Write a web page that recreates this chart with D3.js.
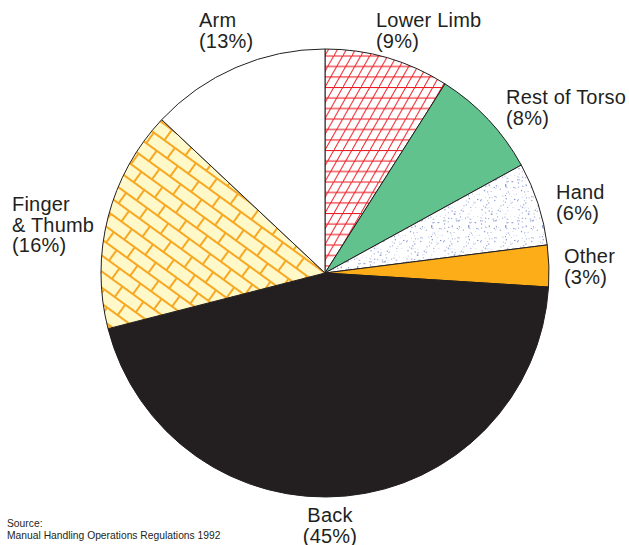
<!DOCTYPE html>
<html>
<head>
<meta charset="utf-8">
<script src="https://cdn.jsdelivr.net/npm/d3@7"></script>
<style>
  html, body { margin: 0; padding: 0; background: #fff; }
  svg { display: block; }
  text { font-family: "Liberation Sans", Arial, Helvetica, sans-serif; fill: #231f20; }
</style>
</head>
<body>
<svg id="chart" width="629" height="545"></svg>
<script>
// ---- data ----
const categories = ["Lower Limb", "Rest of Torso", "Hand", "Other", "Back", "Finger & Thumb", "Arm"];
const values = [9, 8, 6, 3, 45, 16, 13];
const labelLines = [
  ["Lower Limb", "(9%)"],
  ["Rest of Torso", "(8%)"],
  ["Hand", "(6%)"],
  ["Other", "(3%)"],
  ["Back", "(45%)"],
  ["Finger", "& Thumb", "(16%)"],
  ["Arm", "(13%)"]
];
const sourceLines = ["Source:", "Manual Handling Operations Regulations 1992"];

// ---- layout / style ----
const W = 629, H = 545;
const cx = 325, cy = 273, R = 224;
const fills = ["url(#hatch)", "#62c28e", "url(#stipple)", "#fcad17", "#231f20", "url(#brick)", "#ffffff"];
// label anchor positions (x, first baseline, anchor)
const labelPos = [
  [376, 27, "start"],
  [506, 104, "start"],
  [556, 199, "start"],
  [564, 263, "start"],
  [330, 522, "middle"],
  [12, 211, "start"],
  [199, 27, "start"]
];
const lineH = 20.5;

const svg = d3.select("#chart");
const defs = svg.append("defs");

// crosshatch (Lower Limb): horizontals every 10.5px, steep diagonals every 9px
const hw = 9, hh = 31.5;
const hatch = defs.append("pattern").attr("id", "hatch")
  .attr("patternUnits", "userSpaceOnUse").attr("width", hw).attr("height", hh)
  .attr("x", 0).attr("y", 3);
hatch.append("rect").attr("width", hw).attr("height", hh).attr("fill", "#fff");
[0, 10.5, 21].forEach(y => hatch.append("line")
  .attr("x1", 0).attr("y1", y + 0.5).attr("x2", hw).attr("y2", y + 0.5)
  .attr("stroke", "#ed1c24").attr("stroke-width", 1.1));
[-18, -9, 0].forEach(x0 => hatch.append("line")
  .attr("x1", x0).attr("y1", hh).attr("x2", x0 + 18).attr("y2", 0)
  .attr("stroke", "#ed1c24").attr("stroke-width", 1));

// stipple (Hand) - deterministic dot tile
const stip = defs.append("pattern").attr("id", "stipple")
  .attr("patternUnits", "userSpaceOnUse").attr("width", 37).attr("height", 41);
stip.append("rect").attr("width", 37).attr("height", 41).attr("fill", "#fff");
let seed = 7;
function nextR() { seed = (seed * 16807) % 2147483647; return (seed - 1) / 2147483646; }
const dots = d3.range(110).map(() => [nextR() * 37, nextR() * 41, 0.35 + nextR() * 0.4]);
stip.selectAll("circle").data(dots).join("circle")
  .attr("cx", d => d[0]).attr("cy", d => d[1]).attr("r", d => d[2])
  .attr("fill", "#4a64b8").attr("opacity", 0.6);

// brick (Finger & Thumb)
const bw = 26, bh = 13;
const brick = defs.append("pattern").attr("id", "brick")
  .attr("patternUnits", "userSpaceOnUse").attr("width", bw).attr("height", bh * 2)
  .attr("patternTransform", "rotate(36)");
brick.append("rect").attr("width", bw).attr("height", bh * 2).attr("fill", "#fff8c8");
function bl(x1, y1, x2, y2) {
  brick.append("line").attr("x1", x1).attr("y1", y1).attr("x2", x2).attr("y2", y2)
    .attr("stroke", "#f7a823").attr("stroke-width", 2);
}
bl(0, 0, bw, 0); bl(0, bh, bw, bh); bl(0, bh * 2, bw, bh * 2);
bl(0, 0, 0, bh); bl(bw, 0, bw, bh);
bl(bw / 2, bh, bw / 2, bh * 2);

// ---- pie ----
const pie = d3.pie().sort(null).value(d => d)(values);
const arc = d3.arc().innerRadius(0).outerRadius(R);
const g = svg.append("g").attr("transform", `translate(${cx},${cy})`);
g.selectAll("path").data(pie).join("path")
  .attr("d", arc)
  .attr("fill", (d, i) => fills[i])
  .attr("stroke", "#231f20")
  .attr("stroke-width", 1)
  .attr("stroke-linejoin", "round");

// ---- labels ----
categories.forEach((c, i) => {
  const [x, y, anchor] = labelPos[i];
  const t = svg.append("text").attr("x", x).attr("y", y)
    .attr("text-anchor", anchor).attr("font-size", 20).attr("letter-spacing", 0.2);
  labelLines[i].forEach((s, j) => {
    t.append("tspan").attr("x", x).attr("y", y + j * lineH).text(s);
  });
});

// ---- source ----
const src = svg.append("text").attr("x", 7).attr("y", 527).attr("font-size", 10.3);
sourceLines.forEach((s, j) => src.append("tspan").attr("x", 7).attr("y", 527 + j * 12).text(s));
</script>
</body>
</html>
